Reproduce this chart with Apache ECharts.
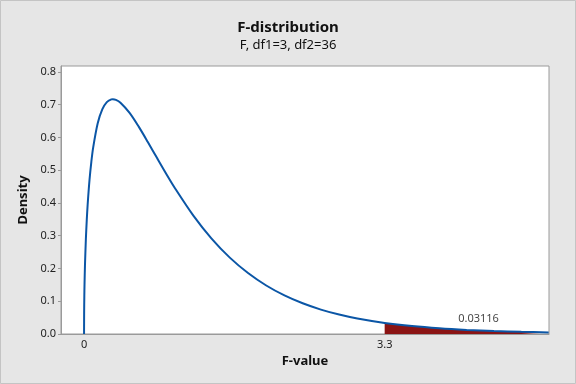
<!DOCTYPE html>
<html>
<head>
<meta charset="utf-8">
<script src="https://cdn.jsdelivr.net/npm/echarts@6/dist/echarts.min.js"></script>
<style>
html,body{margin:0;padding:0;background:#e6e6e6;}
#c{width:576px;height:384px;}
</style>
</head>
<body>
<div id="c"></div>
<script>
// F-values (x) and density values
var fValues = [0, 0.001, 0.003, 0.005, 0.01, 0.02, 0.03, 0.04, 0.06, 0.08, 0.1, 0.15, 0.2, 0.25, 0.3, 0.3158, 0.35, 0.4, 0.5, 0.6, 0.7, 0.8, 0.9, 1.0, 1.2, 1.4, 1.6, 1.8, 2.0, 2.2, 2.4, 2.6, 2.8, 3.0, 3.3, 3.6, 3.9, 4.2, 4.5, 4.8, 5.1];
var density = [0, 0.0668, 0.1153, 0.1484, 0.2082, 0.2897, 0.3491, 0.3966, 0.4702, 0.5257, 0.5691, 0.6432, 0.6855, 0.7077, 0.7160, 0.7165, 0.7146, 0.7060, 0.6749, 0.6329, 0.5860, 0.5376, 0.4899, 0.4442, 0.3613, 0.2911, 0.2331, 0.1861, 0.1481, 0.1178, 0.0937, 0.0745, 0.0593, 0.0472, 0.0337, 0.0241, 0.0173, 0.0125, 0.0090, 0.0066, 0.0048];
var criticalValue = 3.3;
var tailProbability = "0.03116";
var tailLabelPos = [4.33, 0.046];
var xTickLabels = [0, 3.3];
var yTickLabels = [0, 0.1, 0.2, 0.3, 0.4, 0.5, 0.6, 0.7, 0.8];

var curve = [], tail = [];
for (var i = 0; i < fValues.length; i++) {
  curve.push([fValues[i], density[i]]);
  if (fValues[i] >= criticalValue) tail.push([fValues[i], density[i]]);
}

var FONT = 'Noto Sans';
var chart = echarts.init(document.getElementById('c'));
chart.setOption({
  backgroundColor: '#e6e6e6',
  animation: false,
  textStyle: {fontFamily: FONT},
  title: {
    text: 'F-distribution',
    subtext: 'F, df1=3, df2=36',
    left: 'center',
    top: 15,
    itemGap: 4,
    textStyle: {fontFamily: FONT, fontSize: 15, fontWeight: 'bold', color: '#111'},
    subtextStyle: {fontFamily: FONT, fontSize: 13, color: '#111'}
  },
  graphic: [{
    type: 'rect', silent: true, z: 100,
    shape: {x: 0.5, y: 0.5, width: 575, height: 383},
    style: {fill: 'none', stroke: '#c4c4c4', lineWidth: 1}
  }],
  grid: {
    left: 61, right: 27, top: 66, bottom: 50,
    show: true, backgroundColor: '#ffffff', borderColor: '#9a9a9a', borderWidth: 1
  },
  xAxis: {
    type: 'value',
    min: -0.253, max: 5.104,
    name: 'F-value',
    nameLocation: 'middle',
    nameGap: 15,
    nameTextStyle: {fontFamily: FONT, fontSize: 13, fontWeight: 'bold', color: '#111'},
    axisLine: {show: true, onZero: false, lineStyle: {color: '#9a9a9a'}},
    axisTick: {show: false},
    splitLine: {show: false},
    axisLabel: {
      customValues: xTickLabels,
      fontFamily: FONT, fontSize: 11, color: '#222', margin: 5,
      formatter: function (v) { return String(v); }
    }
  },
  yAxis: {
    type: 'value',
    min: 0, max: 0.818,
    name: 'Density',
    nameLocation: 'middle',
    nameGap: 31,
    nameTextStyle: {fontFamily: FONT, fontSize: 13, fontWeight: 'bold', color: '#111'},
    axisLine: {show: true, onZero: false, lineStyle: {color: '#9a9a9a'}},
    axisTick: {show: true, customValues: yTickLabels, length: 3, lineStyle: {color: '#9a9a9a'}},
    splitLine: {show: false},
    axisLabel: {
      customValues: yTickLabels,
      fontFamily: FONT, fontSize: 11, color: '#222', margin: 5,
      formatter: function (v) { return v.toFixed(1); }
    }
  },
  series: [
    {
      type: 'line', data: tail, showSymbol: false, smooth: 0.3,
      lineStyle: {width: 0}, areaStyle: {color: '#8b1414', opacity: 1}, z: 2
    },
    {
      type: 'line', data: curve, showSymbol: false, smooth: 0.3,
      lineStyle: {width: 2, color: '#0b56a6'}, z: 3
    },
    {
      type: 'scatter', data: [tailLabelPos], symbolSize: 0, z: 4,
      label: {show: true, position: 'inside', formatter: tailProbability,
        fontFamily: FONT, fontSize: 11, color: '#111'}
    }
  ]
});
</script>
</body>
</html>
